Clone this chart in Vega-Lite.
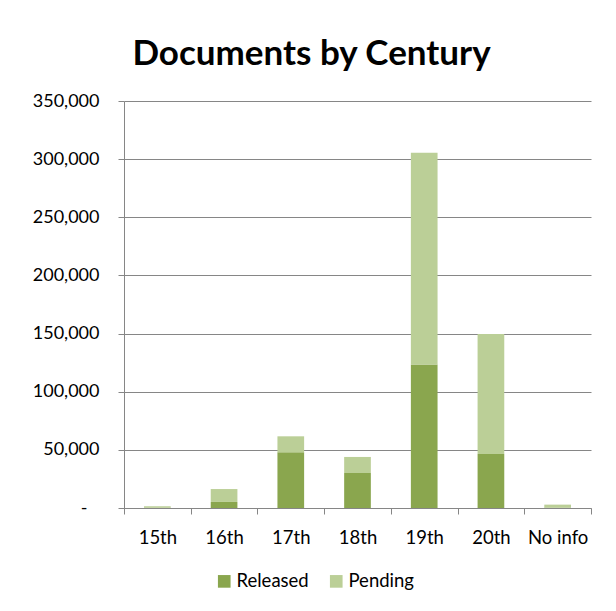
{
  "$schema": "https://vega.github.io/schema/vega-lite/v6.json",
  "width": 467,
  "height": 407,
  "autosize": {"type": "none"},
  "padding": {"left": 124, "top": 101, "right": 25, "bottom": 103},
  "background": "white",
  "title": {
    "text": "Documents by Century",
    "font": "Lato",
    "fontSize": 35,
    "fontWeight": "bold",
    "color": "#000000",
    "anchor": "middle",
    "dx": -46,
    "offset": 20
  },
  "data": {
    "values": [
      {"century": "15th", "status": "Released", "count": 200},
      {"century": "15th", "status": "Pending", "count": 1300},
      {"century": "16th", "status": "Released", "count": 5200},
      {"century": "16th", "status": "Pending", "count": 11100},
      {"century": "17th", "status": "Released", "count": 47900},
      {"century": "17th", "status": "Pending", "count": 13750},
      {"century": "18th", "status": "Released", "count": 30100},
      {"century": "18th", "status": "Pending", "count": 13800},
      {"century": "19th", "status": "Released", "count": 123300},
      {"century": "19th", "status": "Pending", "count": 182300},
      {"century": "20th", "status": "Released", "count": 46400},
      {"century": "20th", "status": "Pending", "count": 103300},
      {"century": "No info", "status": "Released", "count": 300},
      {"century": "No info", "status": "Pending", "count": 2600}
    ]
  },
  "mark": {"type": "bar", "width": {"band": 0.4}},
  "encoding": {
    "x": {
      "field": "century",
      "type": "nominal",
      "sort": null,
      "scale": {"paddingInner": 0, "paddingOuter": 0},
      "axis": {
        "title": null,
        "labelAngle": 0,
        "tickBand": "extent",
        "tickSize": 6,
        "labelPadding": 14,
        "domainColor": "#868686",
        "tickColor": "#868686",
        "labelFont": "Lato",
        "labelFontSize": 18.5,
        "labelColor": "#000000"
      }
    },
    "y": {
      "field": "count",
      "type": "quantitative",
      "stack": "zero",
      "scale": {"domain": [0, 350000], "nice": false},
      "axis": {
        "title": null,
        "values": [0, 50000, 100000, 150000, 200000, 250000, 300000, 350000],
        "labelExpr": "datum.value == 0 ? '-' : format(datum.value, ',')",
        "grid": true,
        "gridColor": "#868686",
        "domainColor": "#868686",
        "tickColor": "#868686",
        "tickSize": 6,
        "labelPadding": {"condition": {"test": "datum.value === 0", "value": 31}, "value": 19},
        "labelFont": "Lato",
        "labelFontSize": 18,
        "labelColor": "#000000"
      }
    },
    "color": {
      "field": "status",
      "type": "nominal",
      "scale": {"domain": ["Released", "Pending"], "range": ["#8AA64E", "#BBCF97"]},
      "legend": {
        "title": null,
        "orient": "none",
        "direction": "horizontal",
        "legendX": 91,
        "legendY": 471,
        "symbolType": "square",
        "symbolSize": 160,
        "symbolStrokeWidth": 0,
        "labelFont": "Lato",
        "labelFontSize": 18.5,
        "labelColor": "#000000",
        "labelOffset": 3,
        "columnPadding": 18
      }
    },
    "order": {"field": "status", "sort": "descending"}
  },
  "config": {"view": {"stroke": null}}
}
